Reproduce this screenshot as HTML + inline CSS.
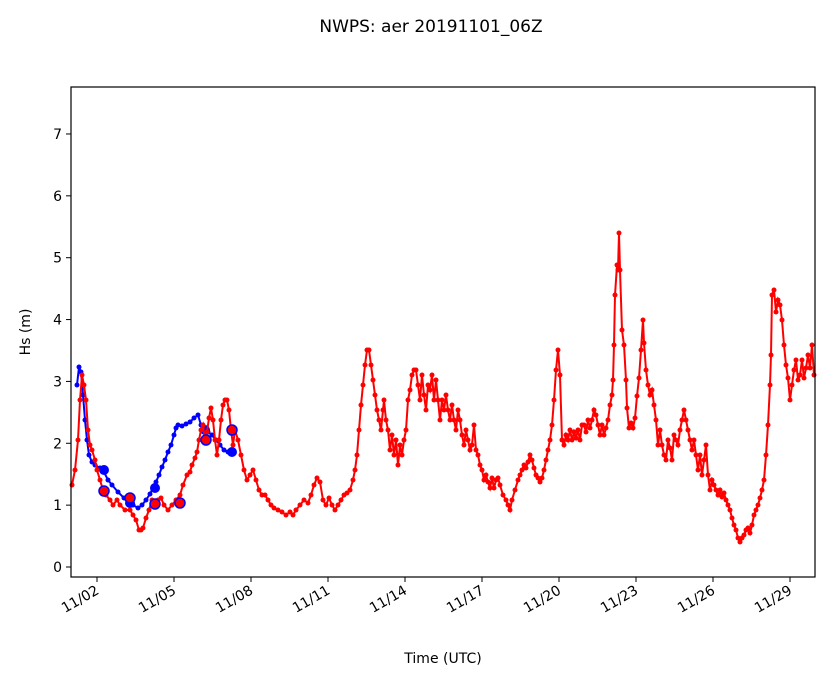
<!DOCTYPE html>
<html><head><meta charset="utf-8"><style>
body{margin:0;background:#fff;}
svg text{font-family:"DejaVu Sans","Liberation Sans",sans-serif;fill:#000;}
</style></head><body>
<svg id="s" width="833" height="681" xmlns="http://www.w3.org/2000/svg">
<rect width="833" height="681" fill="#fff"/>
<text x="431" y="32" font-size="17" text-anchor="middle">NWPS: aer 20191101_06Z</text>
<g id="plot"></g>
<rect x="71" y="87" width="744" height="490" fill="none" stroke="#000" stroke-width="1.2"/>
<g id="ticks" font-size="14"></g>
<text x="443" y="663" font-size="14" text-anchor="middle">Time (UTC)</text>
<text transform="translate(30,332) rotate(-90)" font-size="14" text-anchor="middle">Hs (m)</text>
</svg>
<script>
const NS="http://www.w3.org/2000/svg";
function el(t,a,p){const e=document.createElementNS(NS,t);for(const k in a)e.setAttribute(k,a[k]);(p||document.getElementById('plot')).appendChild(e);return e;}
const red=[72,485,75,470,78,440,80,400,82,375,84,385,86,400,88,430,90,445,92,450,95,460,97,470,100,480,103,490,106,495,110,500,113,505,117,500,120,505,125,510,130,510,133,515,136,520,139,530,141,530,143,528,146,518,149,510,152,500,155,505,158,500,161,498,164,505,168,510,172,505,176,500,180,495,183,485,187,475,190,472,192,465,195,458,197,452,199,440,201,430,203,425,205,440,207,432,209,418,211,408,213,420,215,440,217,455,219,440,221,420,223,405,225,400,227,400,229,410,231,430,233,445,235,430,238,440,241,455,244,470,247,480,250,475,253,470,256,480,259,490,262,495,265,495,268,500,271,505,274,508,278,510,282,512,286,515,290,512,293,515,296,510,300,505,304,500,308,503,311,495,314,485,317,478,320,482,323,500,326,505,329,498,332,505,335,510,338,505,341,500,344,495,347,493,350,490,353,480,355,470,357,455,359,430,361,405,363,385,365,365,367,350,369,350,371,365,373,380,375,395,377,410,379,420,381,430,383,410,384,400,386,420,388,430,390,450,392,435,394,455,396,440,398,465,400,445,402,455,404,440,406,430,408,400,410,390,412,375,414,370,416,370,418,385,420,400,422,375,424,395,426,410,428,385,430,390,432,375,434,400,436,380,438,400,440,420,442,400,444,410,446,395,448,410,450,420,452,405,454,420,456,430,458,410,460,420,462,435,464,445,466,430,468,440,470,450,472,445,474,425,476,450,478,455,480,465,482,470,484,480,486,475,488,482,490,488,492,478,494,488,496,480,498,478,500,485,503,495,506,500,508,505,510,510,512,500,515,490,518,480,520,475,522,470,524,465,526,468,528,462,530,455,532,460,534,468,536,475,538,478,540,482,542,478,544,470,546,460,548,450,550,440,552,425,554,400,556,370,558,350,560,375,562,440,564,445,566,435,568,440,570,430,572,440,574,432,576,438,578,430,580,440,582,425,584,425,586,432,588,420,590,428,592,420,594,410,596,415,598,425,600,435,602,425,604,435,606,428,608,420,610,405,612,395,613,380,614,345,615,295,617,265,618,270,619,233,620,270,622,330,624,345,626,380,627,408,629,428,631,423,633,428,635,418,637,396,639,378,641,350,643,320,644,343,646,370,648,385,650,395,652,390,654,405,656,420,658,445,660,430,662,445,664,455,666,460,668,440,670,448,672,460,674,435,676,440,678,445,680,430,682,420,684,410,686,420,688,430,690,440,692,450,694,440,696,455,698,470,700,455,702,475,704,460,706,445,708,475,710,490,712,480,714,485,716,490,718,495,720,490,722,497,724,493,726,500,728,505,730,510,732,518,734,525,736,530,738,538,740,542,742,538,744,535,746,530,748,528,750,533,752,525,754,515,756,510,758,505,760,498,762,490,764,480,766,455,768,425,770,385,771,355,772,295,774,290,776,312,778,300,780,305,782,320,784,345,786,365,788,378,790,400,792,385,794,370,796,360,798,380,800,375,802,360,804,378,806,368,808,355,810,368,812,345,814,375];
const blue=[77,385,79,367,81,372,83,395,85,420,87,440,89,455,92,462,95,465,100,468,104,472,108,480,112,485,118,492,124,498,128,503,133,505,138,508,142,505,146,500,150,494,153,488,156,482,159,475,162,467,165,460,168,452,171,445,174,435,176,428,178,425,182,426,186,424,190,422,194,418,198,415,201,425,204,430,206,428,208,432,212,435,216,440,220,445,224,450,228,452,232,452];
function line(a,c){let p=[];for(let i=0;i<a.length;i+=2)p.push(a[i]+','+a[i+1]);el('polyline',{points:p.join(' '),fill:'none',stroke:c,'stroke-width':2});for(let i=0;i<a.length;i+=2)el('circle',{cx:a[i],cy:a[i+1],r:2.5,fill:c});}
line(blue,'blue');
[[104,470],[130,503],[155,488],[205,430],[232,452]].forEach(p=>el('circle',{cx:p[0],cy:p[1],r:5,fill:'blue'}));
line(red,'red');
[[104,491],[130,498],[155,504],[180,503],[206,440],[232,430]].forEach(p=>el('circle',{cx:p[0],cy:p[1],r:5,fill:'red',stroke:'blue','stroke-width':1.5}));
const t=document.getElementById('ticks');
for(let v=0;v<=7;v++){const y=567-61.86*v;el('line',{x1:66,x2:71,y1:y,y2:y,stroke:'#000'},t);const tx=el('text',{x:62,y:y+5,'text-anchor':'end'},t);tx.textContent=v;}
const lab=['11/02','11/05','11/08','11/11','11/14','11/17','11/20','11/23','11/26','11/29'];
lab.forEach((l,i)=>{const x=97+i*77;el('line',{x1:x,x2:x,y1:577,y2:582,stroke:'#000'},t);const tx=el('text',{x:x+3,y:593,'text-anchor':'end',transform:`rotate(-30 ${x+3} 593)`},t);tx.textContent=l;});
</script>
</body></html>
